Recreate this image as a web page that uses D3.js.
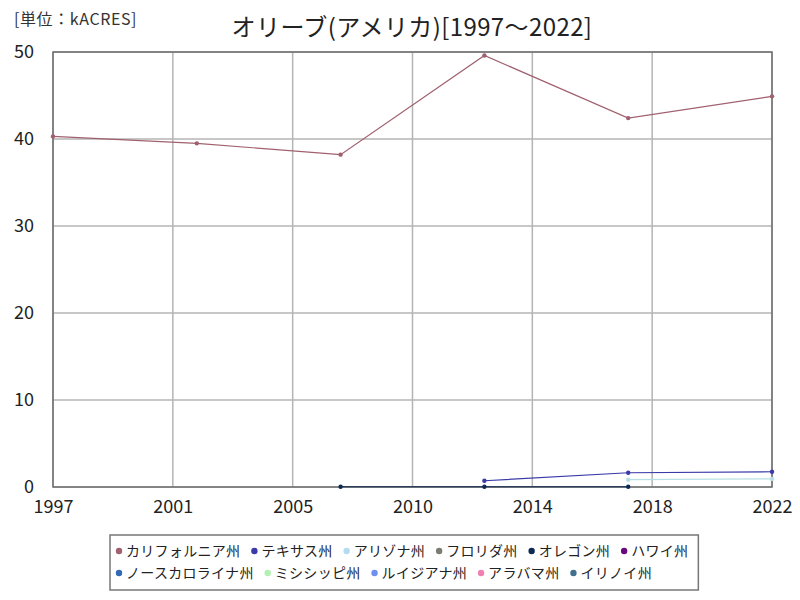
<!DOCTYPE html>
<html>
<head>
<meta charset="utf-8">
<script src="https://cdn.jsdelivr.net/npm/d3@7"></script>
<style>
  body { margin: 0; background: #fff; }
  text { font-family: "Noto Sans CJK JP", "DejaVu Sans", sans-serif; }
</style>
</head>
<body>
<div id="chart"></div>
<script>
// olive acreage per state
var years = [1997, 2002, 2007, 2012, 2017, 2022];

var california = [40.3, 39.5, 38.2, 49.6, 42.4, 44.9];
var texas      = [null, null, null, 0.72, 1.64, 1.75];
var arizona    = [null, null, null, null, 0.84, 0.93];
var oregon     = [null, null, 0.03, 0.03, 0.03, null];

var stateNames  = ["カリフォルニア州", "テキサス州", "アリゾナ州", "フロリダ州", "オレゴン州", "ハワイ州",
                   "ノースカロライナ州", "ミシシッピ州", "ルイジアナ州", "アラバマ州", "イリノイ州"];
var stateColors = ["#a0606e", "#3a3aa8", "#b4dcf0", "#7c7c72", "#0c2a52", "#6a0a7a",
                   "#3268b4", "#b0f0b0", "#7090f0", "#f080b0", "#40708e"];

var xTickLabels = ["1997", "2001", "2005", "2010", "2014", "2018", "2022"];
var yTicks = [0, 10, 20, 30, 40, 50];

var titleText = "オリーブ(アメリカ)[1997～2022]";
var unitText = "[単位：kACRES]";

var series = [
  {name: stateNames[0], color: stateColors[0], values: california},
  {name: stateNames[1], color: stateColors[1], values: texas},
  {name: stateNames[2], color: "#b8e0e4", values: arizona},
  {name: stateNames[4], color: stateColors[4], values: oregon}
];

var width = 800, height = 600;
var margin = {left: 53, right: 28, top: 52, bottom: 113};

var svg = d3.select("#chart").append("svg")
  .attr("width", width)
  .attr("height", height);

var x = d3.scaleLinear().domain([1997, 2022]).range([margin.left, width - margin.right]);
var y = d3.scaleLinear().domain([0, 50]).range([height - margin.bottom, margin.top]);

// x ticks are evenly spaced over the domain, labels rounded
var xTickVals = xTickLabels.map(function(d, i) {
  return 1997 + i * (2022 - 1997) / (xTickLabels.length - 1);
});

// grid
svg.append("g")
  .selectAll("line.vg")
  .data(xTickVals)
  .enter().append("line")
  .attr("x1", d => x(d)).attr("x2", d => x(d))
  .attr("y1", y(0)).attr("y2", y(50))
  .attr("stroke", "#b4b4b4").attr("stroke-width", 1.5);

svg.append("g")
  .selectAll("line.hg")
  .data(yTicks)
  .enter().append("line")
  .attr("x1", x(1997)).attr("x2", x(2022))
  .attr("y1", d => y(d)).attr("y2", d => y(d))
  .attr("stroke", "#b4b4b4").attr("stroke-width", 1.5);

// frame
svg.append("rect")
  .attr("x", x(1997)).attr("y", y(50))
  .attr("width", x(2022) - x(1997)).attr("height", y(0) - y(50))
  .attr("fill", "none").attr("stroke", "#6e6e6e").attr("stroke-width", 1.5);

// axes labels
var xAxis = d3.axisBottom(x).tickValues(xTickVals)
  .tickFormat(function(d, i) { return xTickLabels[i]; })
  .tickSize(0).tickPadding(13);
svg.append("g").attr("transform", "translate(0," + y(0) + ")").call(xAxis)
  .call(g => g.select(".domain").remove())
  .selectAll("text").attr("font-size", 18).attr("fill", "#222")
  .style("font-family", "'Noto Sans CJK JP', sans-serif");

var yAxis = d3.axisLeft(y).tickValues(yTicks).tickSize(0).tickPadding(19);
svg.append("g").attr("transform", "translate(" + x(1997) + ",0)").call(yAxis)
  .call(g => g.select(".domain").remove())
  .selectAll("text").attr("font-size", 18).attr("fill", "#222")
  .style("font-family", "'Noto Sans CJK JP', sans-serif");

// lines
var line = d3.line()
  .defined(d => d[1] != null)
  .x(d => x(d[0]))
  .y(d => y(d[1]));

series.forEach(function(s) {
  var pts = years.map(function(yr, i) { return [yr, s.values[i]]; });
  svg.append("path")
    .datum(pts)
    .attr("fill", "none")
    .attr("stroke", s.color)
    .attr("stroke-width", 1.2)
    .attr("d", line);
  svg.append("g").selectAll("circle")
    .data(pts.filter(d => d[1] != null))
    .enter().append("circle")
    .attr("cx", d => x(d[0])).attr("cy", d => y(d[1]))
    .attr("r", 2.2)
    .attr("fill", s.color);
});

// title and unit
svg.append("text")
  .attr("x", 412).attr("y", 36)
  .attr("text-anchor", "middle")
  .attr("font-size", 24)
  .attr("letter-spacing", 0.4)
  .attr("fill", "#222")
  .text(titleText);

svg.append("text")
  .attr("x", 14).attr("y", 25)
  .attr("font-size", 16)
  .attr("letter-spacing", 0.6)
  .attr("fill", "#333")
  .text(unitText);

// legend
var legend = svg.append("g");
var rows = [stateNames.slice(0, 6), stateNames.slice(6)];
var rowY = [551, 573];
var maxRight = 0;
var k = 0;
rows.forEach(function(row, r) {
  var cx = 119;
  row.forEach(function(name) {
    var col = stateColors[k++];
    legend.append("circle")
      .attr("cx", cx).attr("cy", rowY[r]).attr("r", 3.2).attr("fill", col);
    var t = legend.append("text")
      .attr("x", cx + 7).attr("y", rowY[r] + 5)
      .attr("font-size", 14).attr("letter-spacing", 0.3).attr("fill", "#222")
      .text(name);
    var w = t.node().getComputedTextLength();
    cx = cx + 7 + w + 14;
    maxRight = Math.max(maxRight, cx - 14);
  });
});

legend.insert("rect", ":first-child")
  .attr("x", 110).attr("y", 535)
  .attr("width", maxRight + 10 - 110).attr("height", 55)
  .attr("fill", "#fff").attr("stroke", "#777").attr("stroke-width", 1.5);
</script>
</body>
</html>
